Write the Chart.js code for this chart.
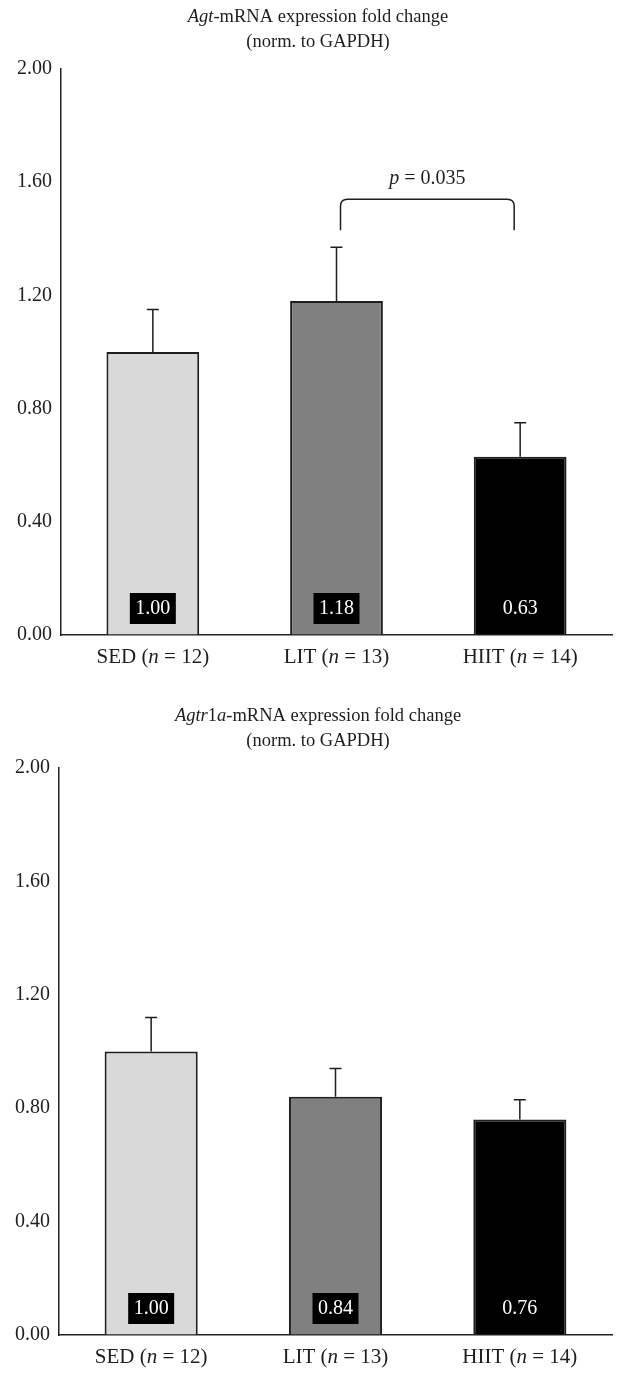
<!DOCTYPE html>
<html>
<head>
<meta charset="utf-8">
<script src="https://cdn.jsdelivr.net/npm/chart.js@4"></script>
<style>
  body { margin: 0; background: #fff; }
  canvas { display: block; }
</style>
</head>
<body>
<canvas id="chartAgt" width="626" height="690"></canvas>
<canvas id="chartAgtr" width="626" height="689"></canvas>
<script>
const groups = ['SED', 'LIT', 'HIIT'];
const groupN = [12, 13, 14];
const barColors = ['#d9d9d9', '#808080', '#000000'];

const agtMean = [1.00, 1.18, 0.63];
const agtErr = [0.15, 0.19, 0.12];

const agtrMean = [1.00, 0.84, 0.76];
const agtrErr = [0.12, 0.10, 0.07];

const yMin = 0, yMax = 2, yStep = 0.4;

// significance bracket on the Agt chart (LIT vs HIIT)
const agtBracket = { from: 1, to: 2, low: 1.43, high: 1.54, text: [['p', true], [' = 0.035', false]] };

const serif = "'Liberation Serif', 'Times New Roman', serif";
const ink = '#1e1e1e';

function drawRuns(ctx, runs, cx, cy, size) {
    let total = 0;
    runs.forEach(r => {
        ctx.font = (r[1] ? 'italic ' : '') + size + 'px ' + serif;
        total += ctx.measureText(r[0]).width;
    });
    let x = cx - total / 2;
    ctx.textAlign = 'left';
    ctx.textBaseline = 'middle';
    runs.forEach(r => {
        ctx.font = (r[1] ? 'italic ' : '') + size + 'px ' + serif;
        ctx.fillText(r[0], x, cy);
        x += ctx.measureText(r[0]).width;
    });
}

const figurePlugin = {
    id: 'figure',
    afterDatasetsDraw(chart, args, opts) {
        const ctx = chart.ctx;
        const area = chart.chartArea;
        const y = chart.scales.y;
        const bars = chart.getDatasetMeta(0).data;
        const values = chart.data.datasets[0].data;
        ctx.save();

        // error bars (upper only)
        ctx.strokeStyle = ink;
        ctx.lineWidth = 1.5;
        bars.forEach((bar, i) => {
            const top = y.getPixelForValue(values[i] + opts.err[i]);
            ctx.beginPath();
            ctx.moveTo(bar.x, bar.y);
            ctx.lineTo(bar.x, top);
            ctx.moveTo(bar.x - 6, top);
            ctx.lineTo(bar.x + 6, top);
            ctx.stroke();
        });

        // value boxes at the foot of each bar
        bars.forEach((bar, i) => {
            ctx.fillStyle = '#000';
            ctx.fillRect(bar.x - 23, area.bottom - 42, 46, 31);
            ctx.fillStyle = '#fff';
            drawRuns(ctx, [[values[i].toFixed(2), false]], bar.x, area.bottom - 26, 20);
        });

        // category labels
        ctx.fillStyle = ink;
        bars.forEach((bar, i) => {
            drawRuns(ctx, [[groups[i] + ' (', false], ['n', true], [' = ' + groupN[i] + ')', false]],
                bar.x, area.bottom + 22, 21);
        });

        // title
        opts.title.forEach((line, k) => {
            drawRuns(ctx, line, 318, area.top - 52 + k * 25, 18.5);
        });

        // bracket
        if (opts.bracket) {
            const b = opts.bracket;
            const xl = bars[b.from].x + 4;
            const xr = bars[b.to].x - 6;
            const yl = y.getPixelForValue(b.low);
            const yh = y.getPixelForValue(b.high);
            ctx.beginPath();
            ctx.moveTo(xl, yl);
            ctx.lineTo(xl, yh + 7);
            ctx.quadraticCurveTo(xl, yh, xl + 7, yh);
            ctx.lineTo(xr - 7, yh);
            ctx.quadraticCurveTo(xr, yh, xr, yh + 7);
            ctx.lineTo(xr, yl);
            ctx.stroke();
            drawRuns(ctx, b.text, (xl + xr) / 2, yh - 20, 20);
        }
        ctx.restore();
    }
};

function makeChart(id, means, errs, title, bracket, pad) {
    return new Chart(document.getElementById(id), {
        type: 'bar',
        data: {
            labels: groups,
            datasets: [{
                data: means,
                backgroundColor: barColors,
                borderColor: '#1e1e1e',
                borderWidth: 2,
                categoryPercentage: 1,
                barPercentage: 0.505
            }]
        },
        options: {
            responsive: false,
            animation: false,
            layout: { padding: { top: pad.top, right: 14, left: 0, bottom: 0 } },
            scales: {
                x: {
                    grid: { display: true, drawOnChartArea: false, drawTicks: false },
                    border: { color: '#222', width: 1.5 },
                    ticks: { display: false },
                    afterFit: s => { s.height = pad.bottom; }
                },
                y: {
                    min: yMin,
                    max: yMax,
                    grid: { display: true, drawOnChartArea: false, drawTicks: false },
                    border: { color: '#222', width: 1.5 },
                    ticks: {
                        stepSize: yStep,
                        padding: 9,
                        color: ink,
                        font: { family: serif, size: 20 },
                        callback: v => v.toFixed(2)
                    },
                    afterFit: s => { s.width = pad.left; }
                }
            },
            plugins: {
                legend: { display: false },
                tooltip: { enabled: false },
                figure: { err: errs, title: title, bracket: bracket }
            }
        },
        plugins: [figurePlugin]
    });
}

makeChart('chartAgt', agtMean, agtErr,
    [[['Agt', true], ['-mRNA expression fold change', false]], [['(norm. to GAPDH)', false]]],
    agtBracket, { top: 69, bottom: 55, left: 61 });

makeChart('chartAgtr', agtrMean, agtrErr,
    [[['Agtr', true], ['1', false], ['a', true], ['-mRNA expression fold change', false]], [['(norm. to GAPDH)', false]]],
    null, { top: 78, bottom: 44, left: 59 });
</script>
</body>
</html>
